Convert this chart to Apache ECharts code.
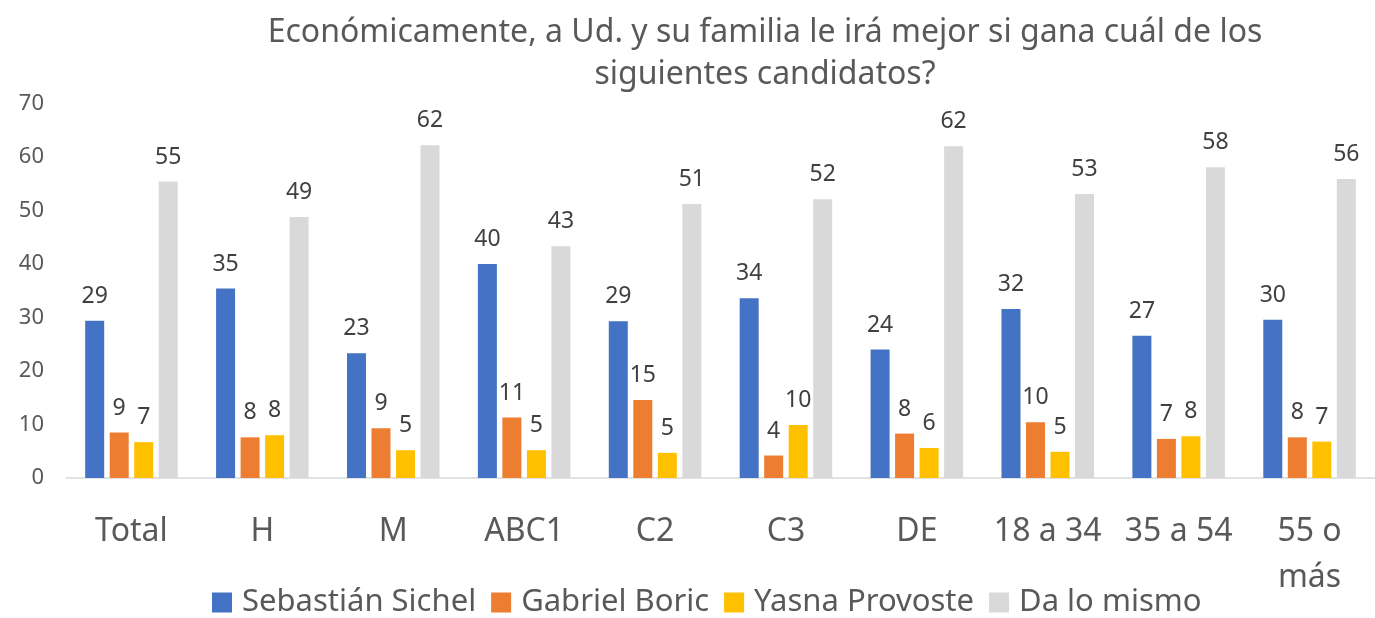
<!DOCTYPE html>
<html>
<head>
<meta charset="utf-8">
<script src="https://cdn.jsdelivr.net/npm/echarts@6/dist/echarts.min.js"></script>
<style>
  html, body { margin: 0; padding: 0; background: #fff; }
  #chart { width: 1375px; height: 618px; }
</style>
</head>
<body>
<div id="chart"></div>
<script>
  const TITLE = "Económicamente, a Ud. y su familia le irá mejor si gana cuál de los\nsiguientes candidatos?";
  const categories = ["Total", "H", "M", "ABC1", "C2", "C3", "DE", "18 a 34", "35 a 54", "55 o más"];
  const seriesNames = ["Sebastián Sichel", "Gabriel Boric", "Yasna Provoste", "Da lo mismo"];
  const sichel = [29.4, 35.4, 23.3, 40.0, 29.3, 33.6, 24.0, 31.6, 26.6, 29.6];
  const boric = [8.5, 7.6, 9.3, 11.3, 14.6, 4.2, 8.3, 10.4, 7.3, 7.6];
  const provoste = [6.7, 8.0, 5.2, 5.2, 4.7, 9.9, 5.6, 4.9, 7.8, 6.8];
  const mismo = [55.4, 48.8, 62.2, 43.3, 51.2, 52.1, 62.0, 53.1, 58.1, 55.9];
  const colors = ["#4472C4", "#ED7D31", "#FFC000", "#D9D9D9"];

  const FONT = "Noto Sans";
  const TEXT = "#595959";

  const values = [sichel, boric, provoste, mismo];

  const series = seriesNames.map((name, i) => ({
    name,
    type: "bar",
    data: values[i],
    barWidth: 19,
    barGap: "29%",
    itemStyle: { color: colors[i] },
    label: {
      show: true,
      position: "top",
      distance: 13,
      color: "#404040",
      fontFamily: FONT,
      fontSize: 23,
      formatter: (p) => Math.round(p.value),
    },
  }));

  const chart = echarts.init(document.getElementById("chart"), null, { renderer: "canvas" });
  chart.setOption({
    animation: false,
    backgroundColor: "#fff",
    color: colors,
    title: {
      text: TITLE,
      left: 760,
      top: 7,
      textAlign: "center",
      textStyle: {
        color: TEXT,
        fontFamily: FONT,
        fontWeight: "normal",
        fontSize: 32,
        lineHeight: 42,
      },
    },
    legend: {
      data: seriesNames,
      left: 207,
      top: 582,
      icon: "rect",
      itemWidth: 20,
      itemHeight: 20,
      itemGap: 15,
      textStyle: { color: TEXT, fontFamily: FONT, fontSize: 31, padding: [0, 0, 0, 5] },
    },
    grid: {
      left: 66,
      top: 103.5,
      width: 1330,
      height: 374.5,
      containLabel: false,
    },
    xAxis: {
      type: "category",
      data: categories,
      axisLine: { lineStyle: { color: "#D9D9D9", width: 1.5 } },
      axisTick: { show: false },
      axisLabel: {
        color: TEXT,
        fontFamily: FONT,
        fontSize: 32,
        margin: 31,
        lineHeight: 46,
        interval: 0,
        formatter: (v) => v.replace(" más", "\nmás"),
      },
    },
    yAxis: {
      type: "value",
      min: 0,
      max: 70,
      interval: 10,
      axisLine: { show: false },
      axisTick: { show: false },
      splitLine: { show: false },
      axisLabel: {
        color: TEXT,
        fontFamily: FONT,
        fontSize: 22,
        margin: 22,
      },
    },
    series,
  });
</script>
</body>
</html>
